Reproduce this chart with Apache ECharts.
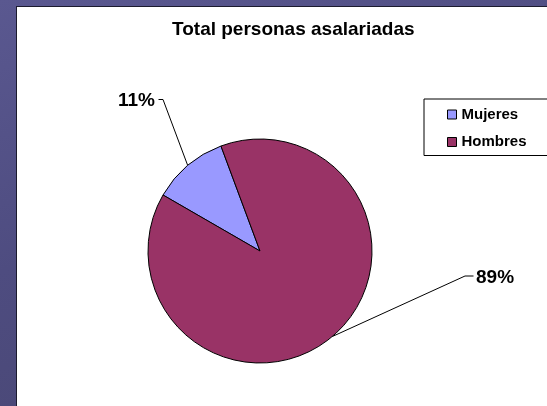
<!DOCTYPE html>
<html>
<head>
<meta charset="utf-8">
<script src="https://cdn.jsdelivr.net/npm/echarts@6/dist/echarts.min.js"></script>
<style>
  html, body { margin: 0; padding: 0; width: 547px; height: 406px; overflow: hidden; }
  body { background: linear-gradient(160deg, #5a5890 0%, #4e4c80 45%, #47456f 100%); position: relative; }
  #panel { position: absolute; left: 16px; top: 6px; width: 620px; height: 460px; background: #ffffff;
           border-left: 1.5px solid #1c1b2e; border-top: 1.5px solid #1c1b2e; }
  #chart { position: absolute; left: 0; top: 0; width: 547px; height: 406px; }
</style>
</head>
<body>
<div id="panel"></div>
<div id="chart"></div>
<script>
// ---- data ----
const titleText = 'Total personas asalariadas';
const categories = ['Mujeres', 'Hombres'];
const values = [11, 89];
const colors = ['#9999FF', '#993366'];

// ---- layout (label anchor points, not data) ----
const labelAnchors = [
  { x: 118, y: 101, bend: [163, 99.5], end: [158.5, 99.5] },
  { x: 476, y: 277.5, bend: [465, 276], end: [473.5, 276] }
];

const chart = echarts.init(document.getElementById('chart'), null, { renderer: 'canvas' });

const option = {
  animation: false,
  backgroundColor: 'transparent',
  title: {
    text: titleText,
    left: 172,
    top: 20,
    padding: 0,
    textStyle: { fontFamily: 'Liberation Sans, Arial, sans-serif', fontSize: 19, fontWeight: 'bold', color: '#000' }
  },
  legend: {
    orient: 'vertical',
    left: 424,
    top: 99,
    padding: [8, 40, 6, 23],
    itemGap: 12.5,
    itemWidth: 9,
    itemHeight: 9,
    icon: 'rect',
    borderColor: '#000',
    borderWidth: 1,
    backgroundColor: '#fff',
    data: categories,
    itemStyle: { borderColor: '#000', borderWidth: 1 },
    textStyle: { fontFamily: 'Liberation Sans, Arial, sans-serif', fontSize: 15, fontWeight: 'bold', color: '#000', padding: [0, 0, 0, 0] }
  },
  series: [{
    type: 'pie',
    center: [260, 251],
    radius: 112,
    startAngle: 150,
    clockwise: true,
    silent: true,
    data: categories.map((c, i) => ({ name: c, value: values[i], itemStyle: { color: colors[i] } })),
    itemStyle: { borderColor: '#000', borderWidth: 1 },
    label: {
      show: true,
      position: 'outside',
      formatter: '{d}%',
      fontFamily: 'Liberation Sans, Arial, sans-serif',
      fontSize: 19,
      fontWeight: 'bold',
      color: '#000'
    },
    labelLine: { show: true, length: 20, length2: 10, smooth: false, lineStyle: { color: '#000', width: 1 } },
    labelLayout: function (params) {
      const a = labelAnchors[params.dataIndex];
      const p0 = params.labelLinePoints ? params.labelLinePoints[0] : null;
      const res = { x: a.x, y: a.y, align: 'left', verticalAlign: 'middle' };
      if (p0) res.labelLinePoints = [p0, a.bend, a.end];
      return res;
    }
  }]
};
chart.setOption(option);
</script>
</body>
</html>
